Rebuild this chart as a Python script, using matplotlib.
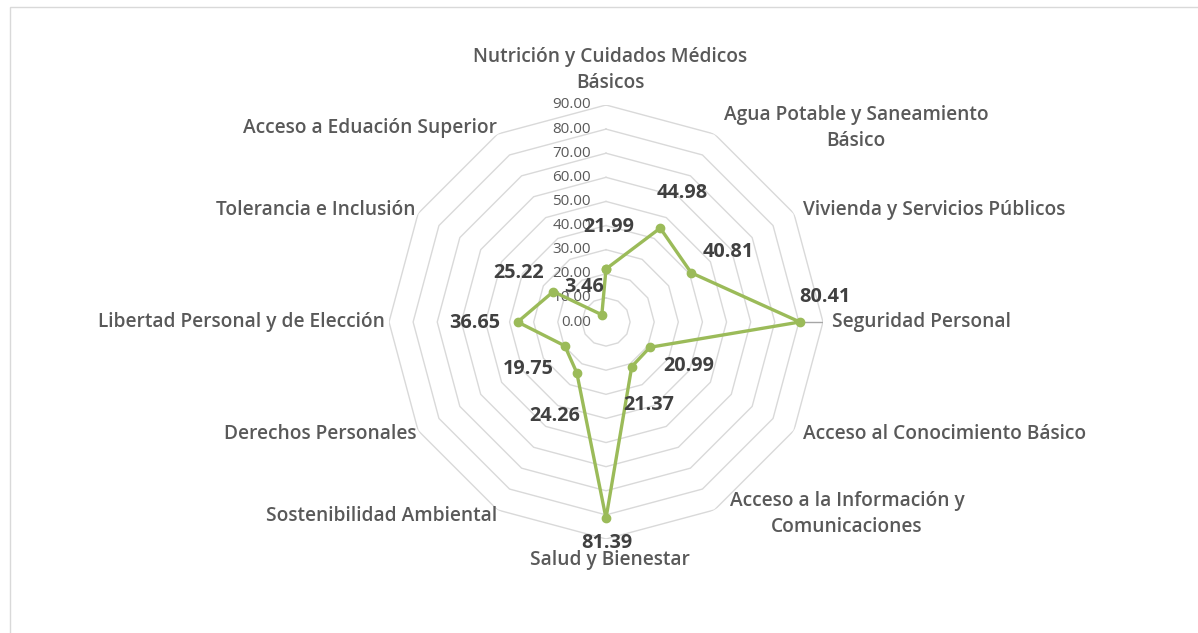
import numpy as np
import matplotlib
matplotlib.use('Agg')
import matplotlib.pyplot as plt
from matplotlib.patches import Rectangle

# datos del índice
categorias = [
    'Nutrición y Cuidados Médicos\nBásicos',
    'Agua Potable y Saneamiento\nBásico',
    'Vivienda y Servicios Públicos',
    'Seguridad Personal',
    'Acceso al Conocimiento Básico',
    'Acceso a la Información y\nComunicaciones',
    'Salud y Bienestar',
    'Sostenibilidad Ambiental',
    'Derechos Personales',
    'Libertad Personal y de Elección',
    'Tolerancia e Inclusión',
    'Acceso a Eduación Superior',
]
valores = [21.99, 44.98, 40.81, 80.41, 20.99, 21.37, 81.39, 24.26, 19.75, 36.65, 25.22, 3.46]
niveles = [0, 10, 20, 30, 40, 50, 60, 70, 80, 90]

# posiciones de las etiquetas (pixeles)
offsets_valores = [(3, 42), (22, 35), (37, 21), (25, 25), (39, -19), (17, -38),
                   (1, -25), (-22, -43), (-36, -23), (-43, -1), (-35, 19), (-18, 28)]
pos_categorias = [  # x, y (pixeles desde arriba), ha
    (610, 70, 'center'), (856, 128, 'center'), (803, 210, 'left'), (832, 322, 'left'),
    (803, 434, 'left'), (847, 514, 'center'), (610, 560, 'center'), (497, 516, 'right'),
    (416, 434, 'right'), (385, 322, 'right'), (416, 210, 'right'), (497, 128, 'right'),
]

W, H = 1198, 633
verde = '#9BBB59'
gris_grid = '#D9D9D9'
fuente = 'Open Sans'

fig = plt.figure(figsize=(W / 100, H / 100), dpi=100)
cx, cy, R = 606, 322, 217
ax = fig.add_axes([(cx - R) / W, (H - cy - R) / H, 2 * R / W, 2 * R / H], projection='polar')
ax.set_theta_zero_location('N')
ax.set_theta_direction(-1)
ax.set_ylim(0, 90)
ax.grid(False)
ax.spines['polar'].set_visible(False)
ax.set_xticks([])
ax.set_yticks([])
ax.patch.set_alpha(0)

n = len(categorias)
ang = np.linspace(0, 2 * np.pi, n, endpoint=False)
ang_c = np.append(ang, ang[0])

# anillos poligonales
for r in niveles[1:]:
    ax.plot(ang_c, [r] * (n + 1), color=gris_grid, lw=1, zorder=1)
for r in niveles:
    ax.annotate(f'{r:.2f}', xy=(0, r), xytext=(-15, 0), textcoords='offset pixels',
                ha='right', va='center', fontsize=11, color='#595959', family=fuente)

# línea hacia seguridad personal
ax.plot([ang[3], ang[3]], [valores[3], 90], color='#A6A6A6', lw=1, zorder=1)

vals_c = valores + valores[:1]
ax.plot(ang_c, vals_c, color=verde, lw=2.4, marker='o', markersize=6, zorder=3)

for a, v, (dx, dy) in zip(ang, valores, offsets_valores):
    ax.annotate(f'{v:.2f}', xy=(a, v), xytext=(dx, dy), textcoords='offset pixels',
                ha='center', va='center', fontsize=14.3, fontweight='bold',
                color='#404040', family=fuente, zorder=4)

for cat, (x, y, ha) in zip(categorias, pos_categorias):
    fig.text(x / W, 1 - y / H, cat, ha=ha, va='center', multialignment='center',
             fontsize=13.8, fontweight='semibold', color='#595959', family=fuente,
             linespacing=1.35)

# marco del gráfico
fig.patches.append(Rectangle((10 / W, -0.1), 1.1, 1 - 7 / H + 0.1, transform=fig.transFigure,
                             fill=False, edgecolor='#D9D9D9', lw=1))

fig.savefig('out.png', dpi=100, facecolor='white')
